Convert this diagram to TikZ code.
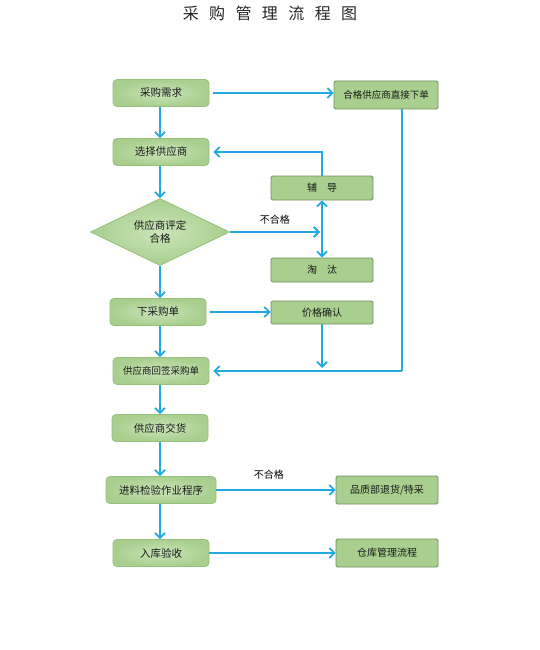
\documentclass[tikz,border=0pt]{standalone}
\usepackage{fontspec}
\setmainfont{Noto Sans CJK SC}
\usetikzlibrary{arrows.meta,shapes.geometric}
\definecolor{boxfill}{HTML}{A8CF8E}
\definecolor{boxlight}{HTML}{CBE4B8}
\definecolor{boxline}{HTML}{95BF7C}
\definecolor{sideline}{HTML}{6F8F60}
\definecolor{arrowc}{HTML}{22A9E1}
\tikzset{
  x=1pt,y=-1pt,
  mainbox/.style={draw=boxline,line width=0.8pt,rounded corners=4pt,inner color=boxlight,outer color=boxfill,
    minimum width=96pt,minimum height=27pt,font=\fontsize{10.5}{12}\selectfont,text=black!90,inner sep=1pt},
  sidebox/.style={draw=sideline,line width=0.8pt,rounded corners=1.5pt,fill=boxfill,
    minimum width=102pt,minimum height=24pt,font=\fontsize{10}{12}\selectfont,text=black!90,inner sep=1pt},
  decbox/.style={diamond,aspect=2.07,draw=boxline,line width=0.8pt,inner color=boxlight,outer color=boxfill,
    minimum width=139pt,minimum height=67pt,inner sep=0pt,font=\fontsize{10.5}{13}\selectfont,text=black!90,align=center},
  tip/.tip={Straight Barb[length=5pt,width=10pt,line width=1.8pt]},
  flow/.style={draw=arrowc,line width=2.2pt,-tip},
  flowline/.style={draw=arrowc,line width=2.2pt},
  lab/.style={font=\fontsize{10}{12}\selectfont,text=black}
}
\begin{document}
\begin{tikzpicture}
\useasboundingbox[fill=white] (0,0) rectangle (540,650);
\node[font=\fontsize{16}{18}\selectfont,text=black!85] (title) at (270,13) {采\hspace{0.65em}购\hspace{0.65em}管\hspace{0.65em}理\hspace{0.65em}流\hspace{0.65em}程\hspace{0.65em}图};
% main column
\node[mainbox] (req) at (161,93) {采购需求};
\node[mainbox] (sel) at (161,152) {选择供应商};
\node[decbox] (eval) at (160,232) {供应商评定\\合格};
\node[mainbox] (order) at (158,312) {下采购单};
\node[mainbox,font=\fontsize{9.5}{12}\selectfont] (sign) at (161,371) {供应商回签采购单};
\node[mainbox] (deliv) at (160,428) {供应商交货};
\node[mainbox,minimum width=110pt] (insp) at (161,490) {进料检验作业程序};
\node[mainbox] (stock) at (161,553) {入库验收};
% side boxes
\node[sidebox,minimum width=104pt,minimum height=28pt,font=\fontsize{9.5}{12}\selectfont] (direct) at (386,95) {合格供应商直接下单};
\node[sidebox] (coach) at (322,188) {辅\hspace{1em}导};
\node[sidebox] (elim) at (322,270) {淘\hspace{1em}汰};
\node[sidebox,minimum height=23pt] (price) at (322,312.5) {价格确认};
\node[sidebox,minimum height=28pt] (qual) at (387,490) {品质部退货/特采};
\node[sidebox,minimum height=28pt] (ware) at (387,553) {仓库管理流程};
% coordinates
\coordinate (cross) at (320,232);
\coordinate (signin) at (322,368);
\coordinate (turn) at (402,371);
\coordinate (bend) at (322,152);
% arrows main column
\draw[flow] (req.south -| 160,0) -- (sel.north -| 160,0);
\draw[flow] (sel.south -| 160,0) -- (eval.north);
\draw[flow] (eval.south) -- (order.north -| 160,0);
\draw[flow] (order.south -| 160,0) -- (sign.north -| 160,0);
\draw[flow] (sign.south -| 160,0) -- (deliv.north -| 160,0);
\draw[flow] (deliv.south -| 160,0) -- (insp.north -| 160,0);
\draw[flow] (insp.south -| 160,0) -- (stock.north -| 160,0);
% right flows
\draw[flow] ([xshift=4pt]req.east) -- (direct.west |- req.east);
\draw[flowline] (direct.south -| turn) -- (turn);
\draw[flow] (turn) -- ([xshift=4pt]sign.east);
\draw[flow] (coach.north) -- (bend) -- ([xshift=4pt]sel.east);
\draw[flow] (eval.east) -- (cross) node[lab,midway,above=3pt] {不合格};
\draw[flowline,tip-tip] (coach.south) -- (elim.north);
\draw[flow] ([xshift=4pt]order.east) -- (price.west |- order.east);
\draw[flow] (price.south) -- (signin);
\draw[flow] (insp.east) -- (qual.west |- insp.east) node[lab,pos=0.44,above=6pt] {不合格};
\draw[flow] (stock.east) -- (ware.west |- stock.east);
\end{tikzpicture}
\end{document}
